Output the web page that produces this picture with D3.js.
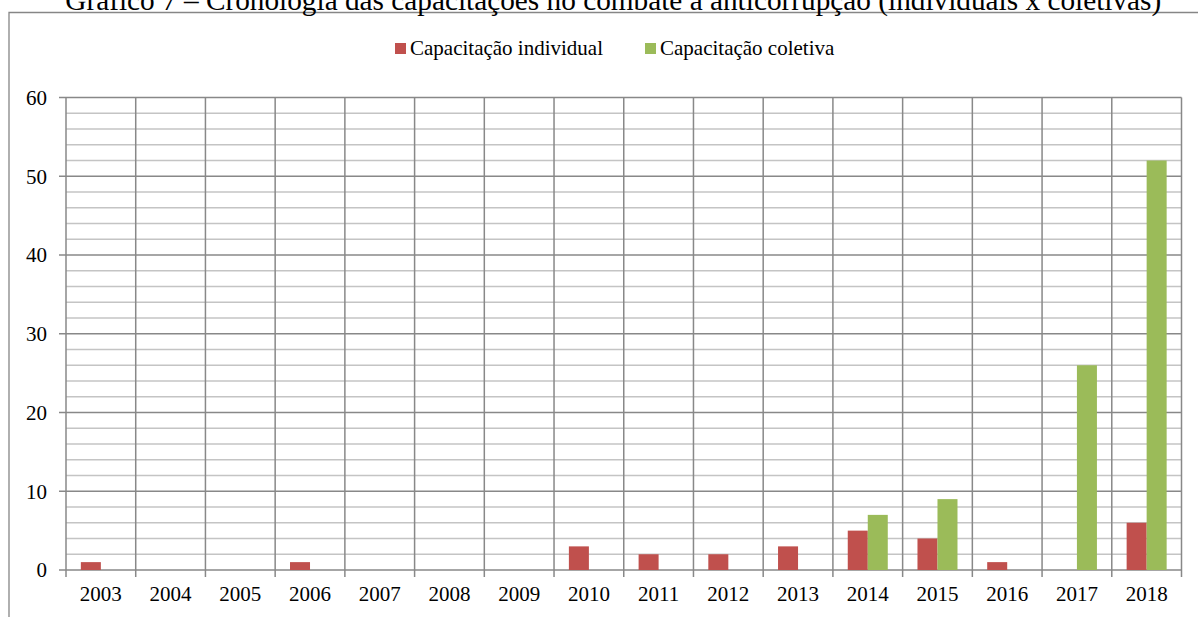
<!DOCTYPE html>
<html><head><meta charset="utf-8">
<script src="https://cdn.jsdelivr.net/npm/d3@7"></script>
<style>html,body{margin:0;padding:0;background:#fff;overflow:hidden}svg{display:block}</style>
</head><body>
<svg id="c" width="1198" height="617"></svg>
<script>
const titleText = "Gráfico 7 – Cronologia das capacitações no combate à anticorrupção (individuais x coletivas)";
const years = ["2003","2004","2005","2006","2007","2008","2009","2010","2011","2012","2013","2014","2015","2016","2017","2018"];
const seriesNames = ["Capacitação individual","Capacitação coletiva"];
const individual = [1,0,0,1,0,0,0,3,2,2,3,5,4,1,0,6];
const coletiva   = [0,0,0,0,0,0,0,0,0,0,0,7,9,0,26,52];
const yTicks = [0,10,20,30,40,50,60];
const colors = ["#c0504d","#9bbb59"];

const svg = d3.select("#c");
const font = "'Liberation Serif','Times New Roman',serif";
const L = 66, R = 1181.5, T = 97.5, B = 570;

// frame
svg.append("path").attr("d","M9,617V12.5H1198").attr("fill","none").attr("stroke","#868686").attr("stroke-width",1.3);

// title
const title = svg.append("text").attr("x",(65+1161.5)/2).attr("y",10).attr("text-anchor","middle")
  .attr("font-family",font).attr("font-size",27).attr("fill","#000").text(titleText);
const tw = title.node().getComputedTextLength();
title.attr("font-size", 27*1096.5/tw);

const x = d3.scaleBand().domain(years).range([L,R]).paddingInner(0.426).paddingOuter(0.213);
const xs = d3.scaleBand().domain([0,1]).range([0,x.bandwidth()]);
const y = d3.scaleLinear().domain([0,60]).range([B,T]);
const step = (R-L)/years.length;

// minor gridlines
const minor = d3.range(2,60,2).filter(v=>v%10!==0);
svg.append("g").selectAll("line").data(minor).join("line")
  .attr("x1",L).attr("x2",R).attr("y1",d=>y(d)).attr("y2",d=>y(d))
  .attr("stroke","#c4c4c4").attr("stroke-width",1.5);
// major gridlines
svg.append("g").selectAll("line").data(yTicks).join("line")
  .attr("x1",L-7).attr("x2",R).attr("y1",d=>y(d)).attr("y2",d=>y(d))
  .attr("stroke","#888").attr("stroke-width",1.5);
// vertical lines (category boundaries)
const bounds = d3.range(years.length+1).map(i=>L+i*step);
svg.append("g").selectAll("line").data(bounds).join("line")
  .attr("x1",d=>d).attr("x2",d=>d).attr("y1",T).attr("y2",B+7)
  .attr("stroke","#888").attr("stroke-width",1.5);

// bars
const data = years.map((yr,i)=>({yr, vals:[individual[i],coletiva[i]]}));
const g = svg.append("g");
data.forEach(d=>{
  d.vals.forEach((v,k)=>{
    if(v>0) g.append("rect").attr("x",x(d.yr)+xs(k)).attr("width",xs.bandwidth())
      .attr("y",y(v)).attr("height",y(0)-y(v)).attr("fill",colors[k]);
  });
});

// y labels
svg.append("g").selectAll("text").data(yTicks).join("text")
  .attr("x",47).attr("y",d=>y(d)).attr("dy","0.35em").attr("text-anchor","end")
  .attr("font-family",font).attr("font-size",21).attr("fill","#000").text(d=>d);
// x labels
svg.append("g").selectAll("text").data(years).join("text")
  .attr("x",d=>x(d)+x.bandwidth()/2).attr("y",601).attr("text-anchor","middle")
  .attr("font-family",font).attr("font-size",21).attr("fill","#000").text(d=>d);

// legend
const legX = [395,645];
seriesNames.forEach((n,k)=>{
  svg.append("rect").attr("x",legX[k]).attr("y",43).attr("width",11).attr("height",11).attr("fill",colors[k]);
  svg.append("text").attr("x",legX[k]+15).attr("y",55).attr("font-family",font).attr("font-size",21)
    .attr("fill","#000").text(n);
});
</script>
</body></html>
